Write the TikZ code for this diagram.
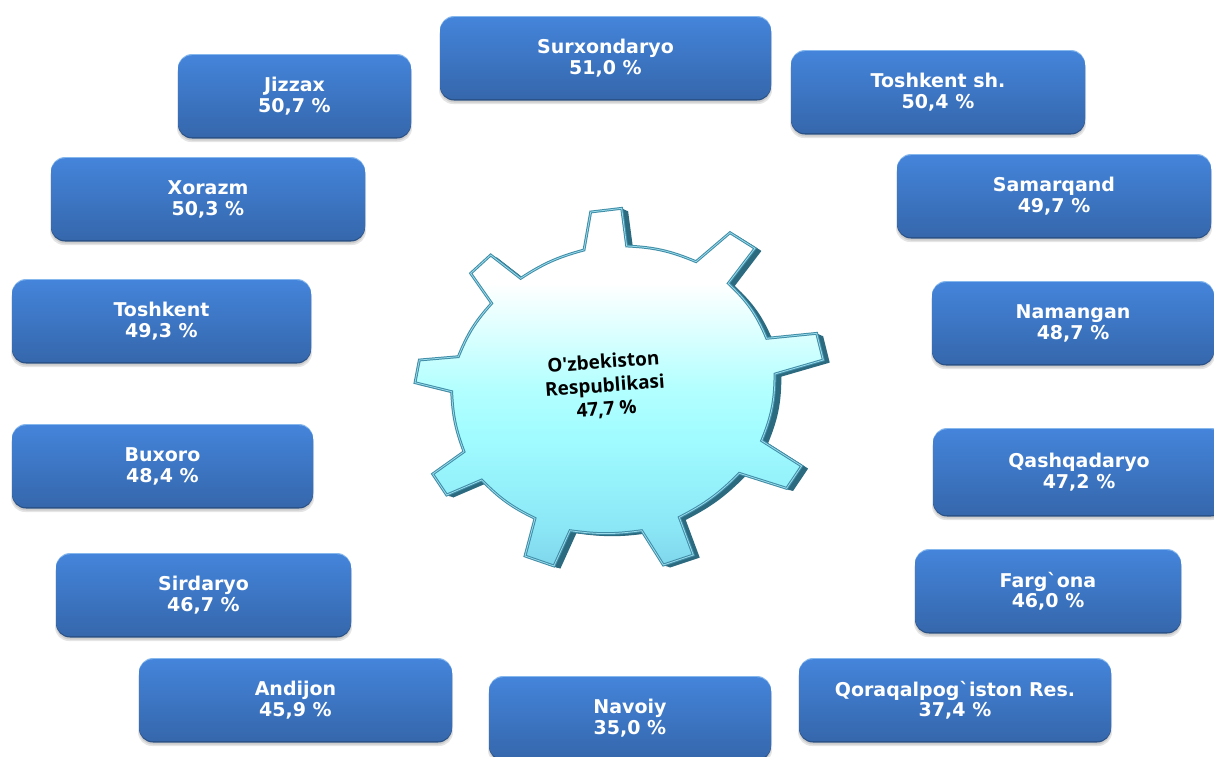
\documentclass[tikz,border=0pt]{standalone}
\usepackage{fontspec}
\setmainfont[Ligatures=TeXOff]{DejaVu Sans}
\newfontfamily\gearfont{Open Sans}
\definecolor{gA}{HTML}{7FD6EC}
\definecolor{gA2}{HTML}{8CE8F6}
\definecolor{gB}{HTML}{A0FCFF}
\definecolor{gC}{HTML}{B4FFFF}
\definecolor{gD}{HTML}{E8FFFF}
\definecolor{boxtop}{HTML}{4484DA}
\definecolor{boxbot}{HTML}{3567AC}
\definecolor{edgelight}{HTML}{86B8EE}
\definecolor{edgedark}{HTML}{2A5186}
\definecolor{gearedge}{HTML}{3F8CA6}
\definecolor{gearlight}{HTML}{9ADCEC}
\definecolor{geardark}{HTML}{2C6A80}
\pgfdeclareverticalshading{gearshade}{100bp}{
  color(0bp)=(gA); color(25bp)=(gA); color(31bp)=(gA2); color(43bp)=(gB); color(50bp)=(gC); color(60bp)=(gD); color(64.5bp)=(white); color(100bp)=(white)}
\tikzset{
  regionbox/.style={rounded corners=14pt,inner sep=0pt,shade,top color=boxtop,bottom color=boxbot,
    text=white,font=\fontsize{19pt}{20.8pt}\selectfont\bfseries,align=center},
  boxshadow/.style={rounded corners=14pt,fill=black,opacity=0.10},
}
\newcommand{\regionbox}[6]{%
  \fill[boxshadow] (#2-1,#3+6) rectangle (#4+1,#5+4);
  \fill[boxshadow] (#2,#3+6) rectangle (#4,#5+2.5);
  \fill[rounded corners=14pt,fill=edgedark] (#2,#3+1) rectangle (#4,#5+0.5);
  \fill[rounded corners=14pt,fill=edgelight] (#2,#3) rectangle (#4,#5-3);
  \node[regionbox,minimum width={(#4-#2)*1pt},minimum height={(#5-#3-2)*1pt}] (#1) at ({(#2+#4)/2},{(#3+#5)/2+0.2}) {#6};
}
\newcommand{\gearoutline}{
  (572,66) -- (665,55) -- (680,168) to[bend left=10] (888,215) -- (990,128) -- (1065,175) -- (985,280)
  to[bend left=12] (1100,445) -- (1250,430) -- (1270,510) -- (1125,552)
  to[bend left=11] (1085,752) -- (1205,828) -- (1160,895) -- (1018,850)
  to[bend left=9] (838,982) -- (880,1095) -- (790,1125) -- (725,1022)
  to[bend left=8] (510,1022) -- (462,1128) -- (375,1098) -- (405,985)
  to[bend left=10] (245,870) -- (140,915) -- (98,852) -- (192,785)
  to[bend left=9] (155,605) -- (45,578) -- (58,510) -- (175,500)
  to[bend left=10] (275,340) -- (212,250) -- (272,195) -- (362,265)
  to[bend left=9] (552,180) -- cycle}
\begin{document}
\begin{tikzpicture}[x=1pt,y=-1pt]
\useasboundingbox (0,0) rectangle (1214,756);
\clip (0,0) rectangle (1214,756);
\fill[white] (0,0) rectangle (1214,756);
\regionbox{surx}{440}{16}{771}{100}{Surxondaryo\\51,0 \%}
\regionbox{jizz}{178}{54}{411}{138}{Jizzax\\50,7 \%}
\regionbox{tsh}{791}{50}{1085}{134}{Toshkent sh.\\50,4 \%}
\regionbox{xor}{51}{157}{365}{241}{Xorazm\\50,3 \%}
\regionbox{sam}{897}{154}{1211}{238}{Samarqand\\49,7 \%}
\regionbox{tosh}{12}{279}{311}{363}{Toshkent\\49,3 \%}
\regionbox{nam}{932}{281}{1214}{365}{Namangan\\48,7 \%}
\regionbox{bux}{12}{424}{313}{508}{Buxoro\\48,4 \%}
\regionbox{qash}{933}{428}{1225}{516}{Qashqadaryo\\47,2 \%}
\regionbox{sir}{56}{553}{351}{637}{Sirdaryo\\46,7 \%}
\regionbox{far}{915}{549}{1181}{633}{Farg`ona\\46,0 \%}
\regionbox{and}{139}{658}{452}{742}{Andijon\\45,9 \%}
\regionbox{qor}{799}{658}{1111}{742}{Qoraqalpog`iston Res.\\37,4 \%}
\regionbox{nav}{489}{676}{771}{760}{Navoiy\\35,0 \%}
\begin{scope}[shift={(400,190)},x=0.33333pt,y=-0.33333pt]
  \begin{scope}[shift={(9,7)}]
    \fill[black,opacity=0.12] \gearoutline;
  \end{scope}
  \foreach \d in {1,2,...,6}{
    \begin{scope}[shift={(3.2*\d,1.3*\d)}]
      \fill[geardark] \gearoutline;
    \end{scope}
  }
  \shade[shading=gearshade,draw=gearedge,line width=2.8pt,line join=miter] \gearoutline;
  \draw[gearlight,line width=0.8pt,line join=miter] \gearoutline;
\end{scope}
\node[rotate=4,align=center,text=black,font=\gearfont\fontsize{19pt}{23.5pt}\selectfont\bfseries] (uz) at (605,386) {O'zbekiston\\Respublikasi\\47,7 \%};
\end{tikzpicture}
\end{document}
